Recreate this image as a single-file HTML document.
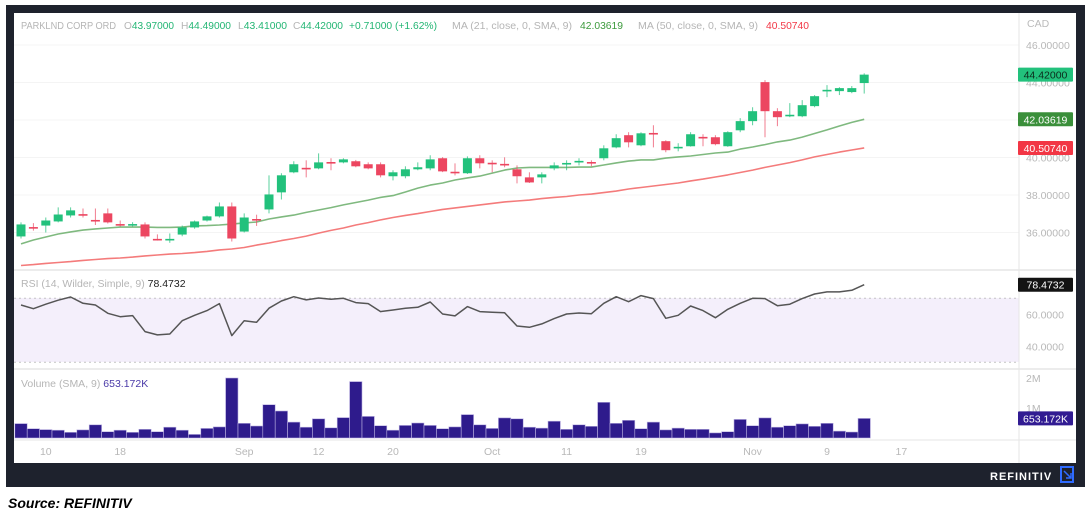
<!DOCTYPE html>
<html><head><meta charset="utf-8"><style>
html,body{margin:0;padding:0;background:#fff;width:1090px;height:517px;overflow:hidden;font-family:"Liberation Sans",sans-serif}
svg{position:absolute;left:0;top:0}
</style></head><body>
<svg id="chart" width="1090" height="517" viewBox="0 0 1090 517" xmlns="http://www.w3.org/2000/svg">
<rect x="6" y="5" width="1079" height="482" fill="#1e222d"/>
<rect x="14" y="13" width="1062" height="450" fill="#fff"/>
<g id="grid"></g>
<rect x="14" y="298" width="1005" height="64" fill="#f4effb"/>
<line x1="14" x2="1019" y1="298.3" y2="298.3" stroke="#c4c4c4" stroke-dasharray="2,3"/>
<line x1="14" x2="1019" y1="362.3" y2="362.3" stroke="#c4c4c4" stroke-dasharray="2,3"/>
<line x1="14" x2="1076" y1="270" y2="270" stroke="#e6e6e6" stroke-width="1.5"/>
<line x1="14" x2="1076" y1="369" y2="369" stroke="#e6e6e6" stroke-width="1.5"/>
<line x1="14" x2="1076" y1="440" y2="440" stroke="#e6e6e6"/>
<line x1="1019" x2="1019" y1="13" y2="463" stroke="#e6e6e6"/>
<g id="ma"></g>
<g id="candles"></g>
<g id="rsi"></g>
<g id="vol"></g>
<g id="axes"></g>
<g font-size="10.5">
<text x="21" y="29" fill="#b5b5b5" textLength="95" lengthAdjust="spacingAndGlyphs">PARKLND CORP ORD</text>
<text x="124" y="29" fill="#22b573" textLength="50" lengthAdjust="spacingAndGlyphs"><tspan fill="#b5b5b5">O</tspan>43.97000</text>
<text x="181" y="29" fill="#22b573" textLength="50" lengthAdjust="spacingAndGlyphs"><tspan fill="#b5b5b5">H</tspan>44.49000</text>
<text x="238" y="29" fill="#22b573" textLength="49" lengthAdjust="spacingAndGlyphs"><tspan fill="#b5b5b5">L</tspan>43.41000</text>
<text x="293" y="29" fill="#22b573" textLength="50" lengthAdjust="spacingAndGlyphs"><tspan fill="#b5b5b5">C</tspan>44.42000</text>
<text x="349" y="29" fill="#22b573" textLength="88" lengthAdjust="spacingAndGlyphs">+0.71000 (+1.62%)</text>
<text x="452" y="29" fill="#b5b5b5" textLength="120" lengthAdjust="spacingAndGlyphs">MA (21, close, 0, SMA, 9)</text>
<text x="580" y="29" fill="#3c9a3c" textLength="43" lengthAdjust="spacingAndGlyphs">42.03619</text>
<text x="638" y="29" fill="#b5b5b5" textLength="120" lengthAdjust="spacingAndGlyphs">MA (50, close, 0, SMA, 9)</text>
<text x="766" y="29" fill="#f23645" textLength="43" lengthAdjust="spacingAndGlyphs">40.50740</text>
<text x="21" y="287" fill="#b5b5b5">RSI (14, Wilder, Simple, 9) <tspan fill="#222">78.4732</tspan></text>
<text x="21" y="387" fill="#b5b5b5">Volume (SMA, 9) <tspan fill="#4a3aa8">653.172K</tspan></text>
<text x="1027" y="27" fill="#bbb">CAD</text>
</g>
<text x="990" y="480" fill="#fff" font-size="11" font-weight="bold" letter-spacing="1">REFINITIV</text>
<g><rect x="1061" y="467" width="12" height="15" fill="none" stroke="#2f6bff" stroke-width="2"/><path d="M1064 471 L1071 478 M1066 478 L1071 478 L1071 473" stroke="#2f6bff" stroke-width="1.5" fill="none"/></g>
<text x="8" y="508" fill="#000" font-size="14" font-weight="bold" font-style="italic">Source: REFINITIV</text>
</svg>
<script>
const opens=[35.79,36.29,36.37,36.59,36.91,36.98,36.67,37.02,36.45,36.41,36.43,35.66,35.61,35.89,36.27,36.64,36.86,37.39,36.05,36.72,37.23,38.14,39.21,39.45,39.42,39.76,39.74,39.80,39.64,39.64,39.00,39.00,39.37,39.42,39.96,39.24,39.16,39.96,39.72,39.66,39.37,38.94,38.94,39.42,39.67,39.78,39.76,39.96,40.54,41.19,40.65,41.31,40.87,40.52,40.60,41.10,41.08,40.60,41.45,41.94,44.02,42.47,42.24,42.20,42.74,43.57,43.54,43.49,43.97];
const highs=[36.54,36.50,36.80,37.34,37.34,37.28,37.28,37.28,36.64,36.55,36.54,35.90,35.95,36.37,36.64,36.90,37.60,37.60,37.02,36.95,39.05,39.16,39.80,39.85,40.22,39.96,39.96,39.87,39.74,39.74,39.32,39.53,39.74,40.12,40.02,39.69,40.06,40.12,39.85,40.01,39.58,39.21,39.21,39.74,39.85,39.96,39.85,40.65,41.24,41.35,41.35,41.72,40.92,40.76,41.35,41.24,41.19,41.40,42.10,42.68,44.13,42.63,42.90,43.06,43.33,43.86,43.75,43.81,44.49];
const lows=[35.68,36.10,36.00,36.54,36.80,36.80,36.40,36.48,36.32,36.32,35.68,35.57,35.45,35.80,36.20,36.59,36.80,35.52,36.00,36.35,37.02,37.76,39.16,38.94,39.37,39.32,39.69,39.48,39.37,38.94,38.78,38.89,39.32,39.32,39.22,39.05,39.12,39.42,39.21,39.48,38.62,38.64,38.62,39.32,39.32,39.58,39.53,39.85,40.49,40.54,40.60,40.54,40.28,40.33,40.58,40.60,40.65,40.57,41.35,41.72,41.08,41.67,42.15,42.15,42.68,43.22,43.33,43.43,43.41];
const closes=[36.43,36.27,36.64,36.96,37.18,36.94,36.64,36.54,36.41,36.45,35.79,35.61,35.66,36.27,36.59,36.86,37.39,35.68,36.80,36.68,38.03,39.05,39.64,39.42,39.74,39.72,39.90,39.53,39.42,39.05,39.21,39.37,39.48,39.90,39.26,39.21,39.96,39.69,39.67,39.62,39.00,38.67,39.10,39.58,39.71,39.82,39.72,40.49,41.03,40.81,41.29,41.27,40.39,40.57,41.24,41.06,40.71,41.35,41.94,42.47,42.47,42.15,42.28,42.79,43.27,43.61,43.70,43.70,44.42];
const ma21=[35.39,35.60,35.76,35.92,36.03,36.13,36.19,36.24,36.29,36.29,36.29,36.27,36.27,36.29,36.35,36.37,36.40,36.45,36.51,36.56,36.72,36.83,36.93,37.07,37.20,37.33,37.47,37.60,37.73,37.87,37.97,38.16,38.37,38.53,38.64,38.80,38.91,39.01,39.17,39.33,39.44,39.47,39.47,39.47,39.47,39.49,39.49,39.60,39.71,39.81,39.87,39.87,39.97,40.03,40.08,40.16,40.24,40.29,40.45,40.56,40.69,40.83,40.93,41.09,41.28,41.47,41.68,41.87,42.04];
const ma50=[34.24,34.29,34.35,34.40,34.45,34.51,34.56,34.61,34.64,34.69,34.75,34.80,34.85,34.88,34.93,34.99,35.07,35.12,35.20,35.33,35.44,35.57,35.68,35.81,35.97,36.11,36.24,36.40,36.53,36.67,36.80,36.91,37.01,37.12,37.23,37.31,37.39,37.47,37.55,37.63,37.68,37.73,37.81,37.87,37.92,38.00,38.05,38.13,38.21,38.32,38.40,38.48,38.56,38.64,38.75,38.85,38.96,39.07,39.20,39.33,39.47,39.60,39.73,39.87,40.03,40.16,40.29,40.40,40.51];
const rsiValues=[65.8,63.5,66.3,68.8,70.8,66.9,65.8,60.6,58.5,59.2,49.2,47.1,47.7,56.0,59.4,62.3,66.7,46.7,56.0,55.0,63.8,68.3,71.0,69.0,70.2,69.4,70.0,67.3,66.7,61.7,62.7,63.8,64.4,67.7,60.2,59.0,64.8,61.7,61.3,61.0,52.7,51.9,54.0,57.3,60.2,60.8,60.4,66.9,71.0,67.9,71.7,69.8,57.5,59.4,65.2,62.3,57.9,63.1,66.9,70.0,69.8,65.4,66.3,69.8,72.7,74.0,74.0,75.0,78.47];
const volumes=[0.48,0.31,0.28,0.26,0.19,0.27,0.44,0.21,0.26,0.19,0.29,0.21,0.36,0.26,0.12,0.32,0.37,2.0,0.49,0.40,1.11,0.90,0.53,0.36,0.64,0.34,0.68,1.88,0.72,0.41,0.26,0.42,0.50,0.42,0.31,0.37,0.78,0.44,0.32,0.67,0.64,0.36,0.33,0.56,0.29,0.44,0.39,1.19,0.49,0.59,0.31,0.53,0.27,0.33,0.29,0.29,0.17,0.21,0.62,0.41,0.67,0.36,0.41,0.47,0.39,0.49,0.23,0.20,0.653];
const priceTicks=[36,38,40,42,44,46];
const priceTickLabels=["36.00000","38.00000","40.00000","42.00000","44.00000","46.00000"];
const rsiTicks=[40,60];
const rsiTickLabels=["40.0000","60.0000"];
const volTicks=[1,2];
const volTickLabels=["1M","2M"];
const timeTickIndex=[2,8,18,24,30,38,44,50,59,65,71];
const timeTickLabels=["10","18","Sep","12","20","Oct","11","19","Nov","9","17"];

const NS="http://www.w3.org/2000/svg";
function mk(tag,attrs,parent){const e=document.createElementNS(NS,tag);for(const k in attrs)e.setAttribute(k,attrs[k]);parent.appendChild(e);return e;}
const xOf=i=>21+12.4*i;
const yP=p=>45+(46-p)*18.75;
const yR=v=>298.3+(70-v)*1.6;
const yV=v=>438-v*30;
const G="#22c17c",R="#ec4660";

const grid=document.getElementById('grid');
priceTicks.forEach(p=>{const l=mk('line',{x1:14,x2:1019,y1:yP(p),y2:yP(p),stroke:'#f4f4f4'},grid);

});

const ma=document.getElementById('ma');
function line(arr,yf,color,w,parent,name){const d=arr.map((v,i)=>(i?'L':'M')+xOf(i).toFixed(1)+' '+yf(v).toFixed(1)).join(' ');
const p=mk('path',{d:d,fill:'none',stroke:color,'stroke-width':w,'stroke-linejoin':'round'},parent);

}
line(ma21,yP,'#7fb97f',1.6,ma,'ma21-line');
line(ma50,yP,'#f47b7b',1.6,ma,'ma50-line');

const cg=document.getElementById('candles');
closes.forEach((c,i)=>{const o=opens[i],col=c>=o?G:R,x=xOf(i);
const w=mk('line',{x1:x,x2:x,y1:yP(highs[i]),y2:yP(lows[i]),stroke:col,'stroke-width':1,opacity:c>=o?0.75:0.7},cg);


const top=yP(Math.max(o,c)),h=Math.max(1.6,Math.abs(yP(o)-yP(c)));
const b=mk('rect',{x:x-4.5,y:top,width:9,height:h,fill:col},cg);

});

const rg=document.getElementById('rsi');
line(rsiValues,yR,'#555',1.5,rg,'rsi-line');

const vg=document.getElementById('vol');
volumes.forEach((v,i)=>{const r=mk('rect',{x:xOf(i)-6.2,y:yV(v),width:12.4,height:438-yV(v),fill:'#2e1b8c',stroke:'#b9b0e0','stroke-width':0.6},vg);

});

const ax=document.getElementById('axes');
function txt(s,x,y,attrs,name){const t=mk('text',Object.assign({x:x,y:y,'font-size':10.5,fill:'#b8b8b8'},attrs||{}),ax);t.textContent=s;

return t;}
priceTicks.forEach((p,i)=>txt(priceTickLabels[i],1026,yP(p)+4,{},'price-tick-label'));
rsiTicks.forEach((v,i)=>txt(rsiTickLabels[i],1026,yR(v)+4,{},'rsi-tick-label'));
volTicks.forEach((v,i)=>txt(volTickLabels[i],1026,yV(v)+4,{},'volume-tick-label'));
timeTickIndex.forEach((k,i)=>txt(timeTickLabels[i],xOf(k),455,{'text-anchor':'middle'},'time-tick-label'));

function badge(val,label,y,bg,fg,name){const g=mk('g',{},ax);


mk('rect',{x:1018,y:y-7,width:55,height:14,fill:bg,rx:1},g);
const t=mk('text',{x:1045.5,y:y+4,'font-size':10.5,fill:fg,'text-anchor':'middle'},g);t.textContent=label;}
badge(closes[closes.length-1],"44.42000",yP(closes[closes.length-1]),G,'#0c2b1c','last-price-badge');
badge(ma21[ma21.length-1],"42.03619",yP(ma21[ma21.length-1]),'#3a8f3a','#fff','ma21-badge');
badge(ma50[ma50.length-1],"40.50740",yP(ma50[ma50.length-1]),'#f23645','#fff','ma50-badge');
badge(0,"78.4732",yR(rsiValues[rsiValues.length-1]),'#131313','#fff','rsi-badge');
badge(0,"653.172K",yV(volumes[volumes.length-1]),'#311b92','#fff','volume-badge');
</script>
</body></html>
